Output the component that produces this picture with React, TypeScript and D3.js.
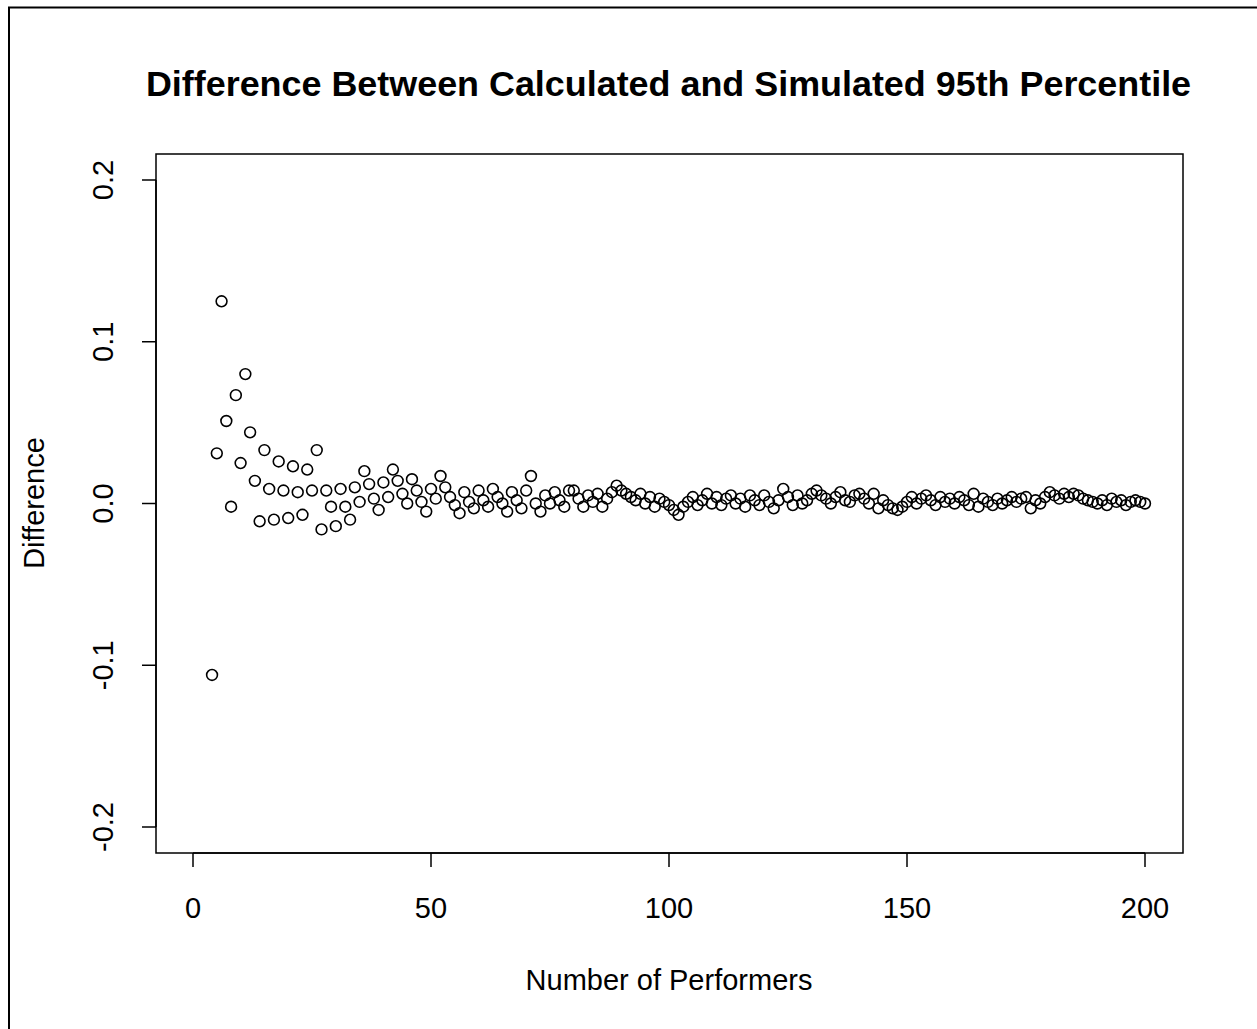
import React from "react";
import * as d3 from "d3";

const startN = 4;
const diffValues: number[] = [
  -0.106, 0.031, 0.125, 0.051, -0.002, 0.067, 0.025, 0.080, 0.044, 0.014,
  -0.011, 0.033, 0.009, -0.010, 0.026, 0.008, -0.009, 0.023, 0.007, -0.007,
  0.021, 0.008, 0.033, -0.016, 0.008, -0.002, -0.014, 0.009, -0.002, -0.010,
  0.010, 0.001, 0.020, 0.012, 0.003, -0.004, 0.013, 0.004, 0.021, 0.014,
  0.006, 0.000, 0.015, 0.008, 0.001, -0.005, 0.009, 0.003, 0.017, 0.010,
  0.004, -0.001, -0.006, 0.007, 0.001, -0.003, 0.008, 0.002, -0.002, 0.009,
  0.004, 0.000, -0.005, 0.007, 0.002, -0.003, 0.008, 0.017, 0.000, -0.005,
  0.005, 0.000, 0.007, 0.002, -0.002, 0.008, 0.008, 0.003, -0.002, 0.005,
  0.001, 0.006, -0.002, 0.003, 0.007, 0.011, 0.008, 0.006, 0.004, 0.002,
  0.006, 0.000, 0.004, -0.002, 0.003, 0.001, -0.001, -0.004, -0.007, -0.002,
  0.001, 0.004, -0.001, 0.002, 0.006, 0.000, 0.004, -0.001, 0.003, 0.005,
  0.000, 0.003, -0.002, 0.005, 0.002, -0.001, 0.005, 0.001, -0.003, 0.002,
  0.009, 0.004, -0.001, 0.005, 0.000, 0.002, 0.006, 0.008, 0.005, 0.003,
  0.000, 0.004, 0.007, 0.002, 0.001, 0.005, 0.006, 0.003, 0.000, 0.006,
  -0.003, 0.002, -0.001, -0.003, -0.004, -0.002, 0.001, 0.004, 0.000, 0.003,
  0.005, 0.002, -0.001, 0.004, 0.001, 0.003, 0.000, 0.004, 0.002, -0.001,
  0.006, -0.002, 0.003, 0.001, -0.001, 0.003, 0.000, 0.002, 0.004, 0.001,
  0.003, 0.004, -0.003, 0.002, 0.000, 0.004, 0.007, 0.005, 0.003, 0.006,
  0.004, 0.006, 0.005, 0.003, 0.002, 0.001, 0.000, 0.002, -0.001, 0.003,
  0.001, 0.002, -0.001, 0.001, 0.002, 0.001, 0.000,
];
const xTicks = [0, 50, 100, 150, 200];
const yTicks = [-0.2, -0.1, 0.0, 0.1, 0.2];
const yTickLabels = ["-0.2", "-0.1", "0.0", "0.1", "0.2"];
const titleText = "Difference Between Calculated and Simulated 95th Percentile";
const xLabel = "Number of Performers";
const yLabel = "Difference";

const points = diffValues.map((v, i) => ({ n: startN + i, v }));

export default function App() {
  const W = 1257;
  const H = 1029;
  const box = { left: 156, right: 1183, top: 154, bottom: 853 };
  const x = d3.scaleLinear().domain([0, 200]).range([193, 1145]);
  const y = d3.scaleLinear().domain([-0.2, 0.2]).range([827, 180]);
  const font = "'Liberation Sans', Arial, sans-serif";
  return (
    <svg
      width={W}
      height={H}
      style={{ position: "absolute", left: 0, top: 0, background: "#fff" }}
    >
      <rect x={9} y={7.5} width={1400} height={1200} fill="none" stroke="#000" strokeWidth={2} />
      <text x={668.5} y={96} textAnchor="middle" fontFamily={font} fontWeight="bold" fontSize={35.9}>
        {titleText}
      </text>
      <rect
        x={box.left}
        y={box.top}
        width={box.right - box.left}
        height={box.bottom - box.top}
        fill="none"
        stroke="#000"
        strokeWidth={1.5}
      />
      {/* x axis */}
      <line x1={x(0)} x2={x(200)} y1={box.bottom} y2={box.bottom} stroke="#000" strokeWidth={1.5} />
      {xTicks.map((t) => (
        <g key={t}>
          <line x1={x(t)} x2={x(t)} y1={box.bottom} y2={box.bottom + 14} stroke="#000" strokeWidth={1.5} />
          <text x={x(t)} y={918} textAnchor="middle" fontFamily={font} fontSize={29}>
            {t}
          </text>
        </g>
      ))}
      {/* y axis */}
      <line x1={box.left} x2={box.left} y1={y(-0.2)} y2={y(0.2)} stroke="#000" strokeWidth={1.5} />
      {yTicks.map((t, i) => (
        <g key={t}>
          <line x1={box.left} x2={box.left - 14} y1={y(t)} y2={y(t)} stroke="#000" strokeWidth={1.5} />
          <text
            transform={`translate(113,${y(t)}) rotate(-90)`}
            textAnchor="middle"
            fontFamily={font}
            fontSize={29}
          >
            {yTickLabels[i]}
          </text>
        </g>
      ))}
      <text x={669} y={990} textAnchor="middle" fontFamily={font} fontSize={29}>
        {xLabel}
      </text>
      <text transform={`translate(44,503) rotate(-90)`} textAnchor="middle" fontFamily={font} fontSize={29}>
        {yLabel}
      </text>
      {points.map((p) => (
        <circle key={p.n} cx={x(p.n)} cy={y(p.v)} r={5.4} fill="none" stroke="#000" strokeWidth={1.6} />
      ))}
    </svg>
  );
}
